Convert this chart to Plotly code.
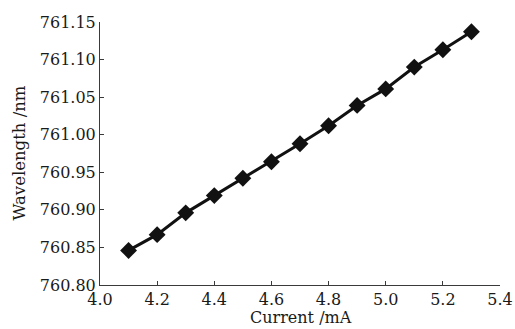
import plotly.graph_objects as go

# Laser wavelength versus drive current
current_ma = [4.1, 4.2, 4.3, 4.4, 4.5, 4.6, 4.7, 4.8, 4.9, 5.0, 5.1, 5.2, 5.3]
wavelength_nm = [760.846, 760.867, 760.896, 760.919, 760.942, 760.964, 760.988,
                 761.012, 761.039, 761.061, 761.090, 761.113, 761.137]

x_ticks = [4.0, 4.2, 4.4, 4.6, 4.8, 5.0, 5.2, 5.4]
y_ticks = [760.80, 760.85, 760.90, 760.95, 761.00, 761.05, 761.10, 761.15]

serif = "DejaVu Serif"
axis_color = "#3a3a3a"
text_color = "#1a1a1a"

fig = go.Figure()
fig.add_trace(go.Scatter(
    x=current_ma, y=wavelength_nm,
    mode="lines+markers",
    line=dict(color="#111111", width=3),
    marker=dict(symbol="diamond", size=13, color="#111111"),
    showlegend=False,
))

axis_common = dict(
    showgrid=False, zeroline=False, showline=True,
    linecolor=axis_color, linewidth=1,
    ticks="inside", ticklen=4, tickwidth=1, tickcolor=axis_color,
    tickfont=dict(family=serif, size=16, color=text_color),
)

fig.update_layout(
    width=515, height=329,
    margin=dict(l=100, r=15, t=22, b=44, autoexpand=False),
    paper_bgcolor="white", plot_bgcolor="white",
    xaxis=dict(range=[4.0, 5.4], tickvals=x_ticks,
               ticktext=[f"{v:.1f}" for v in x_ticks], **axis_common),
    yaxis=dict(range=[760.80, 761.15], tickvals=y_ticks,
               ticktext=[f"{v:.2f}" for v in y_ticks], **axis_common),
    annotations=[
        dict(text="Current /mA", xref="paper", yref="paper", x=0.5025, y=0.0,
             yshift=-44, yanchor="bottom", showarrow=False,
             font=dict(family=serif, size=16, color=text_color)),
        dict(text="Wavelength /nm", xref="paper", yref="paper", x=0.0, y=0.5,
             xshift=-81, xanchor="center", textangle=-90, showarrow=False,
             font=dict(family=serif, size=16.5, color=text_color)),
    ],
)

fig.write_html("out.html")
